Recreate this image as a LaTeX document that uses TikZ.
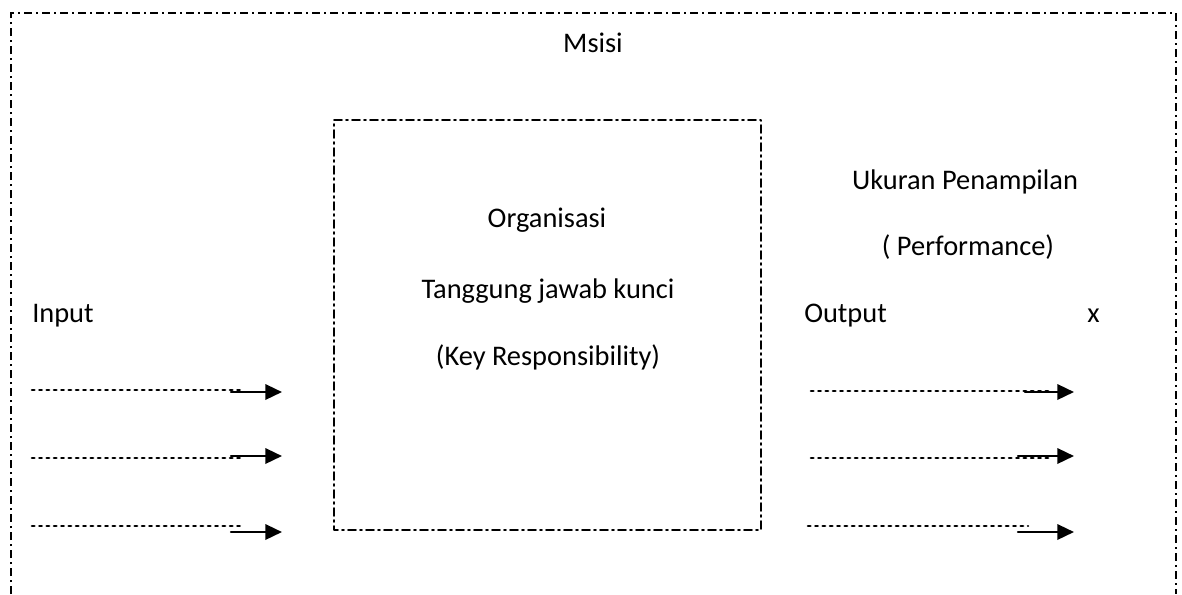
\documentclass[tikz,border=0pt]{standalone}
\usepackage{fontspec}
\setmainfont{Carlito}
\usetikzlibrary{arrows.meta,calc}
\usepackage{tkz-euclide}

\begin{document}
\begin{tikzpicture}[x=.75pt,y=-.75pt,
  dashdot/.style={line width=1.2pt,dash pattern=on 6pt off 3pt on 1.5pt off 3pt},
  dotline/.style={line width=1.9pt,dash pattern=on 1.8pt off 3.7pt},
  arrowline/.style={line width=1.8pt,-{Triangle[length=12.5pt,width=11.5pt]}},
  txt/.style={inner sep=0pt,font=\fontsize{21.3}{25}\selectfont}]
\useasboundingbox (0,0) rectangle (1182,594);

\tkzDefPoints{11/594/O1,11/13/O2,1176/13/O3,1176/594/O4}
\tkzDefPoints{334/120/I1,761/120/I2,761/530/I3,334/530/I4}

% Step 1
\draw[dashdot] (O1) -- (O2) -- (O3) -- (O4);
\tkzDrawPolygon[dashdot](I1,I2,I3,I4)

% Step 2
\node[txt,anchor=base] (msisi) at (593,52) {Msisi};
\node[txt,anchor=base] (org) at (547,227) {Organisasi};
\node[txt,anchor=base] (tgj) at (548,298) {Tanggung jawab kunci};
\node[txt,anchor=base] (key) at (548,365) {(Key Responsibility)};
\node[txt,anchor=base] (ukur) at (965,189) {Ukuran Penampilan};
\node[txt,anchor=base] (perf) at (968,255) {( Performance)};
\node[txt,anchor=base west] (input) at (32,322) {Input};
\node[txt,anchor=base west] (output) at (804,322) {Output};
\node[txt,anchor=base west] (x) at (1087,322) {x};

% Step 3
\tkzDefPoints{32/390/A1,242/390/A2,32/458/B1,242/458/B2,32/526/C1,242/526/C2}
\tkzDefPoints{231/392/D1,282/392/D2,231/456/E1,282/456/E2,231/532/F1,282/532/F2}
\tkzDrawSegments[dotline](A1,A2 B1,B2 C1,C2)
\tkzDrawSegments[arrowline](D1,D2 E1,E2 F1,F2)

% Step 4
\tkzDefPoints{811/391/G1,1050/391/G2,811/458/H1,1050/458/H2,808/526/J1,1028/526/J2}
\tkzDefPoints{1025/392/K1,1074/392/K2,1018/456/L1,1074/456/L2,1018/532/M1,1074/532/M2}
\tkzDrawSegments[dotline](G1,G2 H1,H2 J1,J2)
\tkzDrawSegments[arrowline](K1,K2 L1,L2 M1,M2)

\end{tikzpicture}
\end{document}
